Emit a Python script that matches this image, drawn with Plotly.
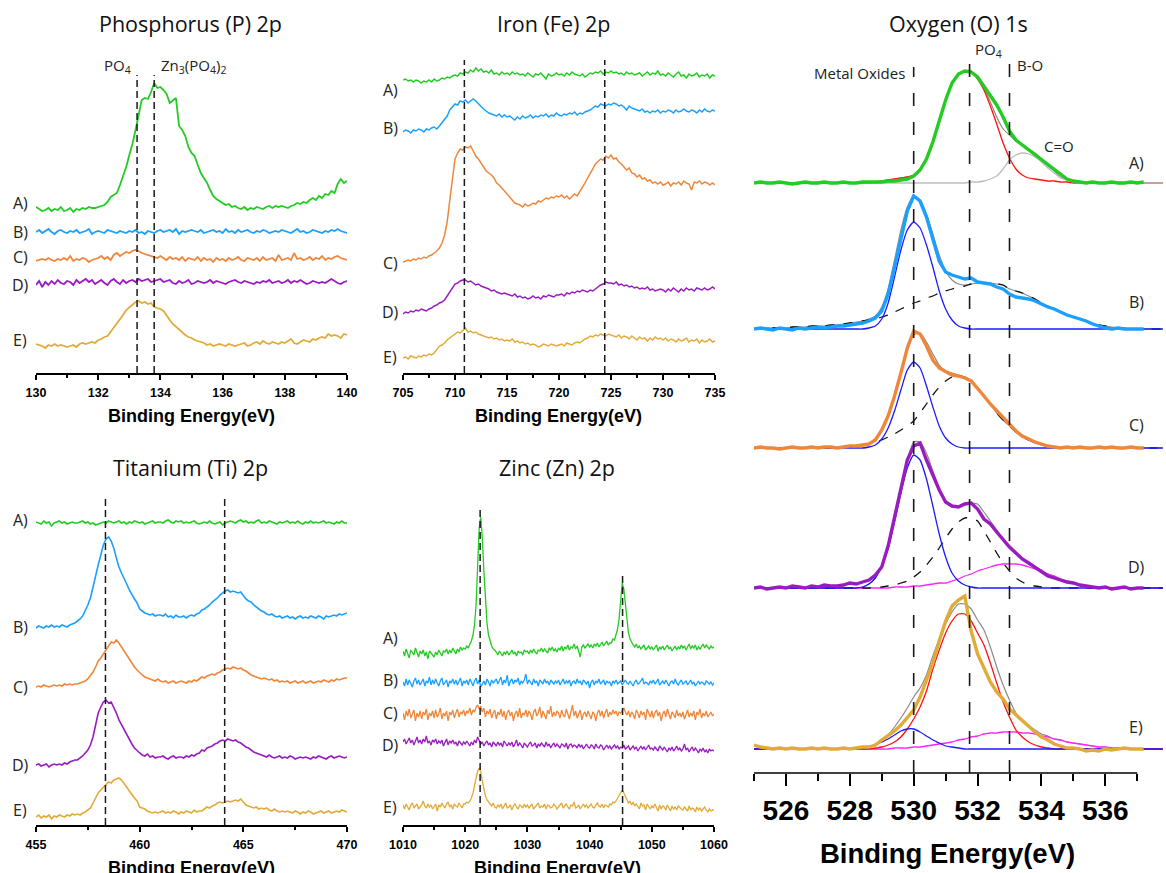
import numpy as np
import plotly.graph_objects as go

W, H = 1166, 873

# ---------------- Phosphorus 2p (130-140 eV, 0.1 eV step) ----------------
P_EN = np.round(np.arange(130.0, 140.0001, 0.1), 3)
P_A = [3, 1, -1, 0, 2, -1, 1, 0, 3, -1,
       0, 2, -2, 1, 0, 2, 1, 3, 2, 2,
       3, 4, 5, 8, 13, 15, 17, 25, 33, 43,
       55, 66, 80, 96, 110, 112, 111, 118, 127, 122,
       123, 120, 116, 107, 110, 112, 84, 80, 74, 63,
       57, 54, 45, 37, 32, 27, 20, 14, 11, 9,
       7, 5, 6, 3, 4, 2, 1, 3, 0, 2,
       1, 3, 2, 1, 3, 4, 2, 4, 3, 4,
       3, 2, 4, 5, 7, 6, 8, 7, 10, 12,
       10, 14, 12, 16, 15, 19, 17, 26, 31, 27,
       29]
P_B = [0, 2, -1, 1, 3, 0, -2, 1, 2, 0,
       -1, 1, 0, 2, -1, 0, 1, 3, -2, 0,
       1, 0, -1, 2, 1, 0, -1, 1, 0, -1,
       1, 0, 2, -1, 0, -2, 1, 0, -1, 1,
       2, 0, 1, 2, 0, 3, -2, 1, 0, 1,
       2, 1, 0, 2, -1, 0, 1, 2, 0, 1,
       -1, 3, 0, 1, -1, 2, 0, 1, 2, 0,
       -1, 1, 0, 2, 1, -1, 0, 1, 0, 2,
       1, 0, -1, 1, 3, 0, 1, -1, 0, 2,
       1, 0, -1, 1, 0, 2, 1, 3, 1, 0,
       -1]
P_C = [-1, 0, 1, 0, 2, 0, -1, 1, 0, 2,
       0, 4, -1, 1, 0, 2, 1, -2, 0, 1,
       2, 4, 1, 3, 0, 5, 7, 4, 6, 8,
       7, 9, 10, 9, 7, 6, 5, 4, 3, 2,
       4, 2, 0, 3, 1, 2, 0, 3, -1, 2,
       1, 0, 3, -1, 2, 0, 1, -2, 2, 0,
       1, -1, 2, 0, 1, 3, 0, -1, 2, 1,
       0, 2, -1, 3, 0, 1, 2, -1, 5, 0,
       1, 2, 0, 7, 1, 2, 0, 1, 3, 0,
       2, 1, 4, 0, 2, 1, 3, 4, 2, 1,
       0]
P_D = [-2, 2, -4, 1, -2, 2, -1, 3, 0, -1,
       2, 1, -2, 3, 0, 2, 4, 1, 3, -1,
       1, 3, 0, -2, 2, 4, 1, -1, 3, 0,
       2, 3, 1, 4, 2, 3, 4, 1, 2, 3,
       4, 1, 2, 3, 0, -1, 2, 0, 1, 3,
       -1, 0, 2, 1, 0, 1, 3, 0, 2, 1,
       0, -1, 1, 2, 3, 1, 0, 2, 1, 0,
       -1, 1, 0, 2, 1, 3, 0, 1, 2, 0,
       1, 3, 0, 2, 1, 3, 1, -1, 0, 2,
       1, 0, 1, 0, 2, 4, 2, 0, -1, 1,
       2]
P_E = [2, 1, 0, -2, 1, 0, 2, 0, 1, 0,
       -1, 0, 1, -1, 2, 3, 2, 3, 4, 3,
       6, 7, 9, 10, 14, 18, 22, 26, 31, 36,
       39, 41, 44, 45, 43, 44, 42, 43, 39, 38,
       37, 35, 30, 26, 22, 19, 16, 13, 11, 9,
       8, 6, 5, 4, 3, 1, 2, 0, 1, 2,
       1, 0, 2, 1, 0, 1, 2, 3, 0, 1,
       3, 4, 2, 5, 3, 2, 4, 3, 2, 4,
       3, 5, 7, 3, 2, 4, 6, 5, 4, 7,
       6, 8, 9, 8, 12, 10, 11, 10, 8, 12,
       11]

# ---------------- Iron 2p (705-735 eV, 0.25 eV step) ----------------
FE_EN = np.round(np.arange(705.0, 735.0001, 0.25), 3)
FE_A = [0, 1, -1, 0, -2, 0, -1, -3, -1, -2, 0, -2, 1, -1, 0, 2, 1, 3, 2, 4,
        5, 4, 7, 6, 8, 7, 10, 8, 12, 9, 11, 8, 9, 7, 10, 6, 7, 5, 8, 6,
        7, 5, 8, 6, 7, 5, 6, 4, 7, 5, 3, 6, 5, 7, 4, 1, 6, 4, 5, 7,
        5, 6, 4, 7, 5, 8, 6, 5, 4, 6, 3, 5, 7, 6, 8, 7, 9, 6, 8, 7,
        9, 7, 8, 6, 7, 5, 8, 6, 7, 5, 6, 7, 4, 6, 8, 5, 7, 6, 9, 5,
        6, 4, 7, 5, 3, 6, 8, 4, 5, 2, 6, 4, 5, 7, 3, 5, 4, 6, 2, 5,
        4]
FE_B = [0, 2, 1, -1, 2, 1, 3, 2, 0, 3, 2, 4, 5, 3, 6, 9, 13, 16, 22, 25,
        28, 27, 31, 30, 32, 29, 31, 33, 31, 28, 26, 23, 21, 19, 18, 17, 16, 18, 15, 17,
        15, 16, 14, 12, 15, 13, 16, 14, 15, 17, 14, 16, 15, 17, 16, 18, 15, 17, 16, 19,
        17, 16, 18, 17, 19, 18, 20, 17, 19, 18, 20, 21, 22, 24, 26, 25, 28, 27, 26, 28,
        27, 29, 28, 26, 27, 25, 22, 26, 24, 23, 22, 21, 23, 20, 21, 19, 21, 20, 22, 19,
        21, 20, 22, 21, 19, 22, 20, 21, 23, 21, 20, 22, 21, 19, 22, 20, 23, 21, 20, 22,
        21]
FE_C = [0, 1, 2, 1, 3, 2, 4, 3, 5, 4, 6, 7, 9, 11, 14, 19, 27, 40, 62, 85,
        103, 109, 113, 112, 115, 114, 116, 111, 106, 103, 99, 96, 91, 89, 87, 84, 79, 77, 74, 71,
        67, 64, 62, 59, 58, 57, 55, 58, 56, 57, 59, 58, 61, 60, 62, 64, 63, 65, 64, 66,
        65, 67, 64, 66, 63, 66, 68, 66, 70, 74, 79, 84, 88, 93, 98, 101, 103, 102, 106, 104,
        107, 103, 104, 100, 98, 95, 92, 94, 89, 88, 85, 87, 83, 84, 81, 82, 79, 80, 78, 80,
        77, 78, 80, 76, 79, 78, 80, 77, 81, 79, 78, 72, 80, 79, 81, 78, 80, 79, 77, 79,
        77]
FE_D = [0, 2, 1, 3, 2, 4, 3, 5, 4, 3, 5, 6, 8, 9, 11, 12, 14, 18, 22, 26,
        30, 31, 33, 34, 34, 32, 33, 31, 29, 30, 28, 27, 26, 25, 23, 24, 22, 21, 20, 21,
        20, 19, 18, 20, 17, 18, 16, 17, 15, 16, 18, 16, 17, 15, 18, 17, 19, 18, 17, 19,
        19, 20, 18, 21, 20, 22, 21, 23, 22, 24, 23, 22, 24, 23, 25, 27, 29, 30, 32, 31,
        31, 30, 32, 29, 30, 28, 29, 27, 28, 26, 27, 25, 26, 25, 27, 24, 25, 23, 24, 25,
        24, 22, 25, 23, 26, 24, 22, 25, 23, 26, 24, 25, 23, 26, 25, 24, 26, 24, 25, 27,
        25]
FE_E = [0, 1, -1, 2, 1, 0, 2, 1, 3, 2, 4, 3, 5, 9, 12, 13, 15, 18, 20, 22,
        24, 26, 25, 28, 30, 26, 27, 25, 26, 24, 23, 22, 21, 20, 21, 19, 20, 18, 19, 17,
        18, 17, 19, 16, 17, 15, 16, 14, 15, 13, 14, 13, 11, 12, 14, 13, 12, 14, 13, 12,
        13, 14, 12, 15, 14, 13, 15, 16, 15, 17, 19, 20, 22, 21, 23, 22, 24, 23, 22, 24,
        23, 22, 21, 23, 20, 22, 21, 19, 22, 20, 18, 21, 19, 20, 17, 20, 18, 21, 19, 20,
        18, 20, 17, 19, 18, 16, 19, 17, 18, 20, 16, 18, 17, 19, 15, 18, 16, 17, 19, 16,
        17]

# ---------------- Titanium 2p (455-470 eV, 0.125 eV step) ----------------
TI_EN = np.round(np.arange(455.0, 470.0001, 0.125), 4)
TI_A = [1, 0, -1, 2, 0, 1, -3, 0, 1, 2, 0, 1, -1, 0, 1, 0,
        0, 1, 2, 0, 1, -1, 0, -2, -1, 0, 1, 0, 2, 1, 0, 1,
        2, 0, 1, -1, 1, 0, 2, 1, 0, 1, -1, 0, 1, 2, 0, 1,
        1, 0, 2, 3, 1, 0, 2, 1, 2, 0, 1, 0, 1, 2, 0, -1,
        0, 1, 0, 2, 0, -1, 0, 1, -2, 0, 1, 2, 1, 0, 2, 3,
        1, 2, 0, 1, 0, 2, 3, 0, 1, 0, 2, 1, 0, -1, 1, 0,
        1, 2, 0, 1, 0, 2, 0, -1, 1, 0, 2, 0, 1, 0, 1, 2,
        0, 1, 0, -1, 1, 0, 2, 0,
        0]
TI_B = [0, 2, 1, 0, 2, 1, 3, 1, 2, 1, 3, 2, 1, 3, 4, 5,
        7, 9, 12, 17, 23, 30, 40, 52, 63, 74, 83, 89, 91, 87, 80, 70,
        61, 55, 50, 44, 38, 33, 29, 25, 19, 17, 15, 14, 13, 14, 12, 13,
        13, 12, 14, 11, 12, 10, 13, 11, 11, 12, 10, 12, 13, 12, 14, 15,
        18, 19, 21, 23, 26, 28, 30, 33, 35, 37, 38, 36, 37, 36, 35, 36,
        32, 29, 27, 26, 23, 21, 19, 17, 16, 14, 13, 14, 12, 11, 12, 10,
        11, 12, 10, 11, 9, 11, 12, 10, 11, 10, 12, 11, 10, 12, 11, 9,
        12, 11, 12, 13, 12, 14, 13, 14,
        15]
TI_C = [0, 1, 0, 2, 1, 0, 1, 2, 1, 2, 1, 3, 2, 3, 2, 3,
        3, 4, 5, 6, 8, 11, 15, 20, 26, 29, 33, 37, 41, 45, 44, 47,
        44, 40, 36, 31, 27, 24, 20, 17, 14, 12, 10, 9, 8, 7, 6, 8,
        6, 5, 6, 4, 5, 6, 4, 5, 6, 5, 4, 6, 5, 7, 6, 8,
        10, 9, 11, 12, 13, 12, 14, 15, 17, 18, 19, 18, 20, 19, 18, 19,
        17, 16, 14, 12, 11, 10, 9, 8, 9, 8, 7, 8, 6, 7, 5, 6,
        5, 6, 4, 5, 6, 4, 5, 6, 4, 5, 6, 4, 5, 6, 5, 7,
        6, 5, 7, 6, 8, 7, 8, 9,
        9]
TI_D = [0, 1, -1, 0, 1, -2, 0, 1, 0, 1, 0, 2, 1, 3, 4, 5,
        5, 7, 9, 12, 15, 20, 28, 40, 52, 58, 63, 65, 62, 63, 58, 52,
        45, 40, 35, 30, 25, 21, 17, 14, 12, 10, 9, 11, 8, 9, 7, 8,
        8, 9, 7, 6, 8, 9, 7, 8, 8, 7, 9, 8, 10, 9, 11, 12,
        15, 14, 17, 18, 19, 21, 22, 24, 25, 24, 26, 25, 24, 25, 23, 22,
        20, 18, 17, 15, 13, 12, 11, 10, 9, 8, 10, 8, 7, 8, 9, 7,
        8, 7, 9, 8, 6, 7, 8, 7, 8, 7, 6, 8, 7, 9, 8, 7,
        6, 8, 9, 7, 8, 9, 8, 7,
        8]
TI_E = [0, 2, -1, 1, 0, 2, -2, 1, 0, 2, 1, 0, 2, 1, 3, 2,
        3, 2, 4, 5, 7, 9, 14, 19, 24, 27, 30, 33, 35, 34, 37, 38,
        39, 37, 34, 30, 26, 22, 19, 16, 10, 9, 8, 6, 5, 4, 5, 4,
        5, 6, 4, 5, 4, 6, 5, 3, 5, 4, 6, 5, 4, 7, 5, 6,
        6, 8, 10, 9, 11, 12, 14, 15, 14, 15, 16, 15, 16, 17, 16, 18,
        15, 12, 11, 10, 9, 10, 8, 9, 8, 9, 7, 6, 8, 6, 5, 6,
        5, 6, 5, 4, 6, 5, 3, 5, 4, 6, 5, 3, 4, 5, 6, 4,
        5, 6, 4, 5, 6, 5, 7, 6,
        5]

# ---------------- Zinc 2p (1010-1060 eV, 0.25 eV step) ----------------
ZN_EN = np.round(np.arange(1010.0, 1060.0001, 0.25), 3)
ZN_A = [2, -3, 4, 0, -5, 3, 1, -2, 5, 0, -4, 2, -1, 3, -3, 1, -6, 2, 0, -2,
        -4, 1, -2, 3, 0, -3, 2, 1, 4, -1, 3, 0, 5, 2, -1, 4, 1, 6, 3, 5,
        4, 7, 5, 9, 12, 18, 28, 48, 85, 125, 136, 115, 82, 50, 30, 18, 11, 7, 4, 3,
        1, -2, 2, 0, -3, 1, -1, 2, -2, 0, 3, -1, 1, -3, 2, 0, 1, -2, 3, 1,
        2, -1, 3, 0, 4, 1, -1, 3, 2, 5, 1, 4, 2, 0, 5, 3, 6, 2, 4, 1,
        5, 3, 7, 2, 6, 4, 8, 3, 6, 5, 9, 4, 7, 2, -4, 6, 8, 5, 7, 9,
        6, 8, 5, 9, 7, 10, 6, 8, 11, 7, 9, 12, 8, 10, 10, 14, 13, 18, 24, 35,
        52, 70, 64, 48, 32, 20, 14, 10, 8, 6, 9, 5, 7, 4, 6, 8, 3, 5, 7, 4,
        6, 3, 5, 8, 2, 6, 4, 7, 3, 5, 8, 4, 6, 2, 5, 7, 3, 6, 4, 8,
        5, 7, 3, 6, 9, 4, 7, 5, 8, 3, 6, 4, 7, 9, 5, 8, 6, 4, 7, 5,
        6]
ZN_B = [1, -3, 4, -2, 3, 0, -4, 2, 5, -1, 3, -2, 1, 4, -3, 2, 0, 6, -2, 3,
        -1, 4, 0, -3, 2, 5, -2, 1, 3, -4, 2, 0, 4, -1, 3, -2, 1, 5, -3, 2,
        0, 3, -2, 4, 1, -3, 2, 5, -1, 3, -4, 0, 2, -2, 4, 1, -3, 3, 0, 2,
        4, -1, 2, 6, -2, 3, 0, 8, -3, 2, 4, -1, 3, 1, 5, -2, 2, 0, 3, 9,
        -1, 3, 1, -2, 4, 0, 2, -3, 3, 1, -1, 4, 0, 2, -2, 3, 1, -1, 2, 0,
        3, -2, 1, 4, -1, 2, 0, 3, -3, 1, 2, -1, 4, 0, 2, -2, 3, 1, -1, 2,
        -5, 1, 3, -2, 2, 0, 4, -1, 1, 3, -2, 2, 0, 1, -3, 2, 0, 3, -1, 1,
        2, -2, 1, 3, 0, -1, 2, 0, -3, 1, 3, -1, 0, 2, 5, -1, 1, 0, -2, 2,
        0, 3, -1, 1, 4, -2, 0, 2, -1, 3, 0, -3, 1, 2, -1, 4, 0, -2, 1, 3,
        -1, 1, 2, -2, 0, 3, -1, 1, -3, 0, 2, -1, 1, 0, -2, 2, 0, -1, 1, -2,
        0]
ZN_C = [2, -5, 4, -1, 6, -3, 1, 5, -6, 2, -2, 4, -4, 3, 0, 6, -5, 2, -1, 4,
        -3, 5, -2, 1, 7, -4, 2, -1, 4, -6, 3, 0, 5, -3, 2, 6, -2, 3, 1, 5,
        -1, 4, 2, 7, 0, 5, 3, 8, 10, 6, 9, 3, 7, -2, 4, 1, 6, -3, 2, 5,
        -4, 3, 0, 6, -2, 4, -5, 2, 5, -1, 3, -6, 1, 4, -2, 7, -3, 2, 0, 5,
        -2, 4, 1, -5, 3, 6, -1, 2, 8, -3, 4, 0, -4, 5, 1, 9, -2, 3, -1, 4,
        2, -3, 5, 0, -2, 6, 1, -4, 3, 10, -1, 4, -3, 2, 5, -5, 1, 3, -2, 4,
        0, -4, 3, 1, -6, 2, 5, -1, 4, -3, 2, 6, -2, 3, 0, 5, 1, 4, -1, 3,
        2, 5, 7, 3, 0, 4, -2, 3, 1, -4, 5, 2, -3, 4, 0, 3, -5, 6, 1, -2,
        4, -3, 2, 5, -1, 3, -6, 1, 4, -2, 6, 0, -4, 3, 1, -3, 5, -1, 2, -2,
        3, -4, 1, 5, -2, 2, -1, 4, -5, 3, 0, 6, -3, 2, -1, 4, -2, 1, 3, -1,
        1]
ZN_D = [3, 6, 1, 4, 7, 2, 5, 0, 4, 8, 2, 5, 1, 6, 3, 9, 2, 4, 0, 5,
        3, 6, 1, 4, 2, 5, -1, 3, 6, 0, 4, 2, 5, 1, 3, -1, 4, 2, 0, 3,
        1, 4, 2, -1, 3, 0, 5, 2, 8, 4, 1, 3, -1, 2, 4, 0, 2, -2, 3, 1,
        -1, 3, 0, 2, -2, 4, 1, -1, 2, 0, 3, -2, 1, 5, -1, 2, 0, -3, 2, 0,
        -2, 1, 3, -1, 0, 2, -3, 1, -1, 2, 0, -2, 3, -1, 1, -3, 0, 2, -2, 1,
        -1, -3, 1, 0, -2, 2, -4, 0, 1, -2, 0, -1, -3, 1, -2, 0, -4, -1, 1, -2,
        -3, 0, -1, -4, 1, -2, -3, 0, -1, -5, -2, 0, -3, -1, -4, -2, 0, -3, -1, -4,
        -2, -3, 0, -4, -2, -1, -5, -3, -1, -4, -2, -6, -3, -1, -4, -2, -5, -3, 0, -4,
        -3, -5, -2, -4, -6, -1, -3, -5, -2, -4, -7, -3, -5, -2, -6, -4, -1, -5, -3, -6,
        -4, 1, -5, -3, -7, -4, -2, -6, -3, -5, -8, -4, -6, -3, -7, -5, -8, -4, -6, -5,
        -6]
ZN_E = [2, -2, 3, 0, -3, 2, 4, -1, 1, 3, -2, 0, 2, 6, 1, -1, 3, 0, 2, -2,
        1, 3, -4, 2, 0, 4, 1, -1, 3, 5, 0, 2, -2, 3, 1, 0, 4, 2, -1, 3,
        3, 5, 4, 6, 9, 14, 22, 30, 36, 39, 35, 26, 17, 11, 7, 5, 3, 1, 4, 0,
        -1, 2, 0, 3, -2, 1, 4, -1, 0, 2, -3, 1, 3, 0, -2, 2, 1, -1, 3, 0,
        2, -1, 1, 3, -2, 0, 2, 4, -1, 1, 0, 3, -2, 2, 1, -1, 0, 3, 1, -2,
        0, 2, 4, -1, 1, 3, 0, -2, 2, 1, 5, -1, 0, 2, -2, 1, 3, 0, 2, -1,
        1, 3, 0, -1, 2, 4, 1, 0, 3, -1, 2, 1, 0, 3, 2, 5, 4, 6, 9, 12,
        15, 17, 14, 10, 7, 4, 6, 2, 5, 1, 3, 0, -2, 4, 1, 2, -3, 3, 0, -2,
        1, -1, 3, 0, -4, 2, -2, 1, 0, -3, 2, -1, -4, 1, -2, 0, -3, 1, -1, -2,
        -3, 0, -2, -4, 1, -3, -1, -2, -5, 0, -3, -1, -4, -2, 0, -3, -5, -2, -4, -3,
        -3]

# ---------------- Oxygen 1s: measured spectra (0.2 eV step) ----------------
O_EN = np.round(np.arange(525.0, 537.2001, 0.2), 3)
O_A = [0, 1, 0, 0, 1, 0, -1, 0, 1, 0,
       0, 1, 0, 0, 1, 0, 0, 1, 1, 1,
       1, 2, 2, 3, 4, 7, 13, 24, 41, 62,
       83, 100, 109, 112, 111, 106, 97, 88, 78, 66,
       52, 43, 38, 33, 29, 24, 19, 13, 8, 4,
       2, 1, 0, 1, 0, 0, 1, 0, 0, 1,
       0, 1]
O_B = [0, 1, 0, -1, 1, 0, -1, 1, 0, 1,
       2, 1, 2, 3, 3, 4, 5, 6, 8, 11,
       18, 35, 62, 92, 118, 133, 128, 112, 90, 68,
       57, 54, 52, 50, 51, 47, 46, 45, 42, 40,
       35, 32, 31, 30, 28, 25, 22, 20, 17, 14,
       12, 10, 8, 5, 3, 1, 0, 1, 0, 0,
       0, 0]
O_C = [0, 1, 0, 0, -1, 0, 1, 0, 0, 1,
       0, 1, 1, 0, 1, 2, 2, 3, 4, 8,
       18, 32, 52, 75, 100, 117, 114, 102, 88, 80,
       76, 73, 72, 70, 67, 60, 52, 44, 37, 30,
       23, 17, 12, 9, 6, 4, 2, 1, 0, 1,
       0, 1, 0, 0, 1, 0, 1, 0, 0, 1,
       0, 0]
O_D = [0, 1, -1, 0, 1, 0, 2, 1, 0, 2,
       1, 3, 2, 2, 3, 5, 4, 6, 8, 13,
       21, 42, 70, 100, 128, 142, 145, 128, 113, 98,
       86, 82, 81, 84, 85, 79, 69, 64, 56, 48,
       41, 35, 29, 25, 21, 16, 12, 10, 8, 6,
       5, 3, 2, 1, 0, 1, -1, 0, 1, -1,
       0, 0]
O_E = [4, 2, 1, 0, 1, 0, 1, 0, 0, 1,
       0, 1, 0, 0, 1, 0, 1, 2, 2, 4,
       9, 13, 18, 24, 31, 39, 52, 68, 86, 108,
       128, 143, 149, 153, 118, 95, 80, 67, 57, 50,
       40, 34, 29, 22, 17, 12, 9, 5, 3, 1,
       1, 0, -2, -1, -2, 0, -1, 0, 1, 0,
       0, 0]

# ---------------- Oxygen 1s: fitted components (0.2 eV step, start energy) ----------------
FIT_EN = np.round(np.arange(525.0, 537.8001, 0.2), 3)
FIT_A_PO4 = (528.6, [0, 1, 2, 3, 4, 5, 6, 8, 14, 24, 40, 63, 83, 99, 108, 112, 111, 104, 93, 77,
                     59, 40, 25, 14, 8, 5, 4, 3, 2, 2, 1, 1, 0])
FIT_A_CO = (531.6, [0, 1, 1, 2, 4, 7, 14, 23, 28, 30, 29, 26, 21, 15, 10, 5, 3, 1, 0])
FIT_B_MO = (528.4, [0, 1, 3, 10, 26, 52, 79, 99, 107, 101, 84, 62, 38, 20, 9, 3, 1, 0])
FIT_B_BR = (525.0, [0, 0, 1, 1, 1, 1, 2, 2, 2, 3, 3, 3, 4, 4, 5, 6, 7, 8, 9, 10,
                    12, 14, 17, 20, 23, 26, 28, 31, 33, 36, 38, 40, 42, 43, 45, 46, 46, 46, 45, 44,
                    40, 38, 36, 33, 30, 26, 23, 20, 17, 14, 12, 10, 8, 6, 4, 3, 2, 1, 1, 0,
                    0, 0, 0, 0, 0])
FIT_C_MO = (528.4, [0, 1, 3, 9, 20, 37, 58, 78, 86, 80, 62, 41, 22, 10, 4, 1, 0])
FIT_C_BR = (527.6, [0, 1, 1, 2, 3, 4, 6, 8, 11, 14, 18, 22, 27, 35, 44, 53, 61, 67, 71, 72,
                    71, 67, 60, 52, 44, 35, 28, 22, 16, 11, 8, 5, 3, 2, 1, 0])
FIT_D_MO = (528.2, [0, 1, 4, 10, 22, 40, 66, 95, 120, 133, 128, 109, 82, 54, 31, 15, 7, 3, 1, 0])
FIT_D_BR = (528.6, [0, 1, 1, 2, 3, 5, 7, 11, 16, 23, 31, 40, 50, 59, 66, 70, 70, 67, 57, 46,
                    35, 25, 17, 10, 6, 3, 2, 1, 0])
FIT_D_BO = (529.0, [0, 0, 1, 1, 1, 2, 2, 3, 4, 5, 5, 7, 9, 12, 14, 17, 19, 21, 23, 24,
                    24, 24, 23, 21, 19, 17, 14, 12, 9, 7, 5, 3, 2, 1, 1, 0])
FIT_E_PO4 = (528.6, [0, 1, 2, 4, 7, 12, 20, 30, 42, 58, 80, 99, 116, 128, 135, 135, 128, 116, 104, 86,
                     66, 47, 32, 19, 12, 7, 4, 2, 1, 0])
FIT_E_MO = (528.0, [0, 0, 1, 2, 4, 7, 10, 14, 18, 20, 20, 17, 13, 9, 6, 3, 2, 1, 0])
FIT_E_BO = (529.2, [0, 1, 1, 1, 2, 2, 3, 4, 5, 6, 7, 9, 10, 12, 13, 15, 16, 16, 17, 17,
                    17, 16, 16, 15, 13, 12, 10, 9, 7, 6, 5, 4, 3, 2, 2, 1, 1, 0])

SAMPLES = ["A)", "B)", "C)", "D)", "E)"]

# ---------------- styling ----------------
GREEN, BLUE, ORANGE, PURPLE, GOLD = "#22cc22", "#1aa0ff", "#f0863a", "#9a1cc0", "#e2ab38"
SERIES_COLORS = [GREEN, BLUE, ORANGE, PURPLE, GOLD]
TXT = "#222222"
TITLE_FONT = dict(family="Open Sans", size=21.5, color="#111111")
LABEL_FONT = dict(family="Open Sans", size=16, color=TXT)
BOLD = dict(family="Liberation Sans, Arial", color="black", weight="bold")

# panel geometry in pixels: x-span of the axis, axis-line row, top of the plotting box
PANELS = {
    "P":  dict(n="", x0=36, x1=347, bot=373, top=40, xr=[130, 140], dt=2, mt0=131, mdt=2),
    "Fe": dict(n="2", x0=403, x1=715, bot=373, top=40, xr=[705, 735], dt=5, mt0=707.5, mdt=5),
    "Ti": dict(n="3", x0=36, x1=347, bot=825, top=480, xr=[455, 470], dt=5, mt0=457.5, mdt=5),
    "Zn": dict(n="4", x0=403, x1=714, bot=825, top=480, xr=[1010, 1060], dt=10, mt0=1015, mdt=10),
    "O":  dict(n="5", x0=754, x1=1166, bot=773, top=40, xr=[525, 537.9], dt=2, mt0=525, mdt=2),
}

# baseline row (pixel) of each stacked spectrum
STACK = {
    "P": [210, 232, 260, 283, 346],
    "Fe": [80, 132, 262, 314, 358],
    "Ti": [523, 628, 687, 765, 817],
    "Zn": [653, 683, 715, 745, 807],
    "O": [183, 329, 448, 588, 749],
}
LABEL_ROWS = {
    "P": [203, 232, 257, 285, 340],
    "Fe": [90, 128, 263, 312, 357],
    "Ti": [520, 627, 687, 765, 810],
    "Zn": [638, 680, 713, 745, 807],
    "O": [163, 302, 425, 567, 727],
}

fig = go.Figure()


def axes_of(key):
    n = PANELS[key]["n"]
    return "x" + n, "y" + n


def add_spectrum(key, en, vals, idx, width, color=None):
    p = PANELS[key]
    xa, ya = axes_of(key)
    off = p["bot"] - STACK[key][idx]
    fig.add_trace(go.Scatter(
        x=en, y=np.asarray(vals, float) + off, mode="lines",
        line=dict(color=color or SERIES_COLORS[idx], width=width),
        xaxis=xa, yaxis=ya, hoverinfo="skip"))


def add_fit(idx, values, color, width=1.2, dash=None, shape="spline"):
    p = PANELS["O"]
    off = p["bot"] - STACK["O"][idx]
    fig.add_trace(go.Scatter(
        x=FIT_EN, y=np.asarray(values, float) + off, mode="lines",
        line=dict(color=color, width=width, dash=dash, shape=shape, smoothing=0.6),
        xaxis="x5", yaxis="y5", hoverinfo="skip"))


def padded(comp):
    start, vals = comp
    full = np.zeros(len(FIT_EN))
    i0 = int(round((start - FIT_EN[0]) / 0.2))
    full[i0:i0 + len(vals)] = vals
    return full


# small panels
for key, en, series, lw in [
    ("P", P_EN, [P_A, P_B, P_C, P_D, P_E], 1.8),
    ("Fe", FE_EN, [FE_A, FE_B, FE_C, FE_D, FE_E], 1.5),
    ("Ti", TI_EN, [TI_A, TI_B, TI_C, TI_D, TI_E], 1.6),
    ("Zn", ZN_EN, [ZN_A, ZN_B, ZN_C, ZN_D, ZN_E], 1.3),
]:
    for i, vals in enumerate(series):
        add_spectrum(key, en, vals, i, lw)

# O 1s fitted components (envelope = sum of components), then measured data on top
GRAY_ENV = "#8a8a8a"
fit_sets = [
    (0, [(FIT_A_PO4, "#ff1010", None), (FIT_A_CO, "#bdbdbd", None)]),
    (1, [(FIT_B_BR, "#111111", "dash"), (FIT_B_MO, "#1a1aff", None)]),
    (2, [(FIT_C_BR, "#111111", "dash"), (FIT_C_MO, "#1a1aff", None)]),
    (3, [(FIT_D_BO, "#ff22ff", None), (FIT_D_BR, "#111111", "dash"), (FIT_D_MO, "#1a1aff", None)]),
    (4, [(FIT_E_BO, "#ff22ff", None), (FIT_E_PO4, "#ff1010", None), (FIT_E_MO, "#1a1aff", None)]),
]
for idx, comps in fit_sets:
    arrays = [padded(c) for c, _, _ in comps]
    add_fit(idx, np.sum(arrays, axis=0), GRAY_ENV, width=1.2)
    for arr, (_, color, dash) in zip(arrays, comps):
        add_fit(idx, arr, color, width=1.3, dash=dash)

for i, vals in enumerate([O_A, O_B, O_C, O_D, O_E]):
    add_spectrum("O", O_EN, vals, i, 3.4)

# ---------------- axes ----------------
layout = dict(width=W, height=H, margin=dict(l=0, r=0, t=0, b=0, pad=0, autoexpand=False),
              paper_bgcolor="white", plot_bgcolor="white", showlegend=False)
for key, p in PANELS.items():
    xa, ya = axes_of(key)
    big = key == "O"
    layout["xaxis" + p["n"]] = dict(
        domain=[p["x0"] / W, p["x1"] / W], range=p["xr"], anchor=ya, automargin=False,
        showgrid=False, zeroline=False, showline=not big,
        linecolor="black", linewidth=1.5,
        ticks="outside", ticklen=12 if big else 5, tickwidth=1.5, tickcolor="black",
        tick0=526 if big else p["xr"][0], dtick=p["dt"],
        tickfont=dict(BOLD, size=28 if big else 12.5),
        ticklabelstandoff=0 if big else 2,
        minor=dict(ticks="outside", ticklen=7 if big else 3, tickwidth=1.5,
                   tickcolor="black", tick0=p["mt0"], dtick=p["mdt"], showgrid=False),
    )
    layout["yaxis" + p["n"]] = dict(
        domain=[1 - p["bot"] / H, 1 - p["top"] / H], range=[0, p["bot"] - p["top"]],
        anchor=xa, visible=False, showgrid=False, zeroline=False, automargin=False)
fig.update_layout(**layout)

# O 1s axis line only spans 525-537 eV
fig.add_shape(type="line", xref="x5", yref="paper", x0=525, x1=537,
              y0=1 - 773 / H, y1=1 - 773 / H, line=dict(color="black", width=1.5))


def vline(xref, x, y_top, y_bot, dash, width=1.5):
    fig.add_shape(type="line", xref=xref, yref="paper", x0=x, x1=x,
                  y0=1 - y_bot / H, y1=1 - y_top / H,
                  line=dict(color="#1a1a1a", width=width, dash=dash))


SMALL_DASH = "7px,4px"
vline("x", 133.25, 75, 373, SMALL_DASH)
vline("x", 133.8, 75, 373, SMALL_DASH)
vline("x2", 710.9, 60, 373, SMALL_DASH)
vline("x2", 724.4, 60, 373, SMALL_DASH)
vline("x3", 458.35, 499, 825, SMALL_DASH)
vline("x3", 464.1, 499, 825, SMALL_DASH)
vline("x4", 1022.4, 508, 825, SMALL_DASH)
vline("x4", 1045.3, 572, 825, SMALL_DASH)
BIG_DASH = "13px,16px"
vline("x5", 530.0, 67, 773, BIG_DASH, 1.6)
vline("x5", 531.75, 50, 773, BIG_DASH, 1.6)
vline("x5", 533.0, 55, 773, BIG_DASH, 1.6)


def text(s, x, y, font, xanchor="center"):
    fig.add_annotation(text=s, x=x / W, y=1 - y / H, xref="paper", yref="paper",
                       showarrow=False, xanchor=xanchor, yanchor="middle", font=font)


# titles
text("Phosphorus (P) 2p", 190, 23, TITLE_FONT)
text("Iron (Fe) 2p", 553, 23, TITLE_FONT)
text("Titanium (Ti) 2p", 190, 467, TITLE_FONT)
text("Zinc (Zn) 2p", 557, 467, TITLE_FONT)
text("Oxygen (O) 1s", 958, 23, TITLE_FONT)

# axis titles
AX_TITLE = dict(BOLD, size=18)
text("Binding Energy(eV)", 191, 416, AX_TITLE)
text("Binding Energy(eV)", 558, 416, AX_TITLE)
text("Binding Energy(eV)", 191, 868, AX_TITLE)
text("Binding Energy(eV)", 557, 868, AX_TITLE)
text("Binding Energy(eV)", 947, 853, dict(BOLD, size=27.5))

# sample labels
for key, xc in [("P", 20), ("Fe", 390), ("Ti", 20), ("Zn", 390), ("O", 1136)]:
    for s, yy in zip(SAMPLES, LABEL_ROWS[key]):
        text(s, xc, yy, LABEL_FONT)

# peak annotations
PEAK_FONT = dict(family="Open Sans", size=15, color=TXT)
text("PO<sub>4</sub>", 117, 66, PEAK_FONT)
text("Zn<sub>3</sub>(PO<sub>4</sub>)<sub>2</sub>", 193, 66, PEAK_FONT)
O_FONT = dict(family="Open Sans", size=15, color=TXT)
text("Metal Oxides", 907, 73, O_FONT, xanchor="right")
text("PO<sub>4</sub>", 973, 50, O_FONT, xanchor="left")
text("B-O", 1015, 65, O_FONT, xanchor="left")
text("C=O", 1042, 146, O_FONT, xanchor="left")

fig.write_html("out.html")
